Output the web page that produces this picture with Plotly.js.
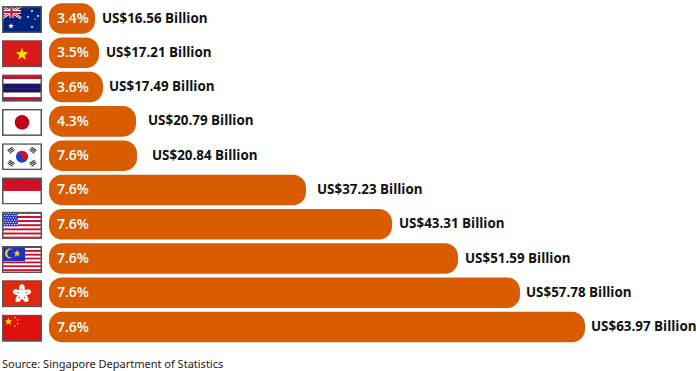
<!DOCTYPE html>
<html><head><meta charset="utf-8">
<script src="https://cdn.plot.ly/plotly-3.0.1.min.js"></script>
<style>html,body{margin:0;padding:0;background:#fff;overflow:hidden}</style></head>
<body><div id="chart" style="width:696px;height:371px"></div>
<script>
const countries = ["Australia","Vietnam","Thailand","Japan","South Korea","Indonesia","United States","Malaysia","Hong Kong","China"];
const barLengths = [46,50,54,87,88,257,343,409,471,536];
const shares = ["3.4%","3.5%","3.6%","4.3%","7.6%","7.6%","7.6%","7.6%","7.6%","7.6%"];
const valueLabels = ["US$16.56 Billion","US$17.21 Billion","US$17.49 Billion","US$20.79 Billion","US$20.84 Billion","US$37.23 Billion","US$43.31 Billion","US$51.59 Billion","US$57.78 Billion","US$63.97 Billion"];
const labelPositions = [53,57,60,99,103,268,350,416,477,542];
const sourceText = "Source: Singapore Department of Statistics";

const ORANGE = "#d95c00";
const frame = '<rect x=".75" y=".75" width="38.5" height="25.5" fill="none" stroke="#555" stroke-width="1.5"/>';
function stripes(colors){const h=27/colors.length;return colors.map((c,i)=>`<rect y="${i*h}" width="40" height="${h+.2}" fill="${c}"/>`).join("");}
const rw13 = ["#c8102e","#fff","#c8102e","#fff","#c8102e","#fff","#c8102e","#fff","#c8102e","#fff","#c8102e","#fff","#c8102e"];
function star(cx,cy,r,fill){let p=[];for(let i=0;i<10;i++){const a=-Math.PI/2+i*Math.PI/5,q=i%2?r*.42:r;p.push((cx+q*Math.cos(a)).toFixed(2)+","+(cy+q*Math.sin(a)).toFixed(2));}return `<polygon points="${p.join(" ")}" fill="${fill}"/>`;}
function dots(x0,y0,nx,ny,dx,dy){let s="";for(let j=0;j<ny;j++)for(let i=0;i<nx;i++)s+=`<circle cx="${x0+i*dx+(j%2?dx/2:0)}" cy="${y0+j*dy}" r=".7" fill="#fff"/>`;return s;}
function petals(){let s="";for(let i=0;i<5;i++){const a=i*72;s+=`<ellipse cx="20" cy="8.6" rx="2.8" ry="4.6" fill="#fff" transform="rotate(${a} 20 13.5)"/><circle cx="20" cy="9" r=".7" fill="#de2910" transform="rotate(${a} 20 13.5)"/>`;}return s;}
function trigrams(){let s="";[[9,7,-35],[31,7,35],[9,20,35],[31,20,-35]].forEach(t=>{s+=`<g transform="rotate(${t[2]} ${t[0]} ${t[1]})" fill="#222"><rect x="${t[0]-3}" y="${t[1]-2.2}" width="6" height="1"/><rect x="${t[0]-3}" y="${t[1]-.5}" width="6" height="1"/><rect x="${t[0]-3}" y="${t[1]+1.2}" width="6" height="1"/></g>`;});return s;}
const flagArt = [
 `<rect width="40" height="27" fill="#00247d"/><path d="M0 0L19 12M19 0L0 12" stroke="#fff" stroke-width="2.6"/><path d="M0 0L19 12M19 0L0 12" stroke="#cf142b" stroke-width="1"/><path d="M9.5 0V12M0 6H19" stroke="#fff" stroke-width="4"/><path d="M9.5 0V12M0 6H19" stroke="#cf142b" stroke-width="2.2"/>${star(9,20,3,"#fff")}${star(30,5,1.6,"#fff")}${star(36,10,1.6,"#fff")}${star(26,11,1.4,"#fff")}${star(30,21,1.6,"#fff")}${star(33,13,1,"#fff")}`,
 `<rect width="40" height="27" fill="#da1a1a"/>${star(20,14,6.6,"#ffdf00")}`,
 stripes(["#c8102e","#fff","#1b1464","#1b1464","#fff","#c8102e"]),
 `<rect width="40" height="27" fill="#fff"/><circle cx="20" cy="13.5" r="7.3" fill="#c00018"/>`,
 `<rect width="40" height="27" fill="#fff"/>${trigrams()}<circle cx="20" cy="13.5" r="6" fill="#1c3fd0"/><path d="M14 13.5A6 6 0 0 1 26 13.5A3 3 0 0 1 20 13.5A3 3 0 0 0 14 13.5Z" fill="#d0102e"/>`,
 `<rect width="40" height="13.5" fill="#ce1126"/><rect y="13.5" width="40" height="13.5" fill="#fff"/>`,
 stripes(rw13)+`<rect width="16" height="14.5" fill="#1c2fc8"/>${dots(1.5,1.5,6,6,2.5,2.3)}`,
 stripes(rw13.concat(["#fff"]))+`<rect width="23" height="15" fill="#1c2fc8"/><circle cx="8" cy="7.5" r="5" fill="#ffd400"/><circle cx="9.6" cy="7.5" r="4.3" fill="#1c2fc8"/>${star(15,7.5,3.8,"#ffd400")}`,
 `<rect width="40" height="27" fill="#de2910"/>${petals()}`,
 `<rect width="40" height="27" fill="#e0100c"/>${star(6.5,7,4,"#ffde00")}${star(13,2.8,1.3,"#ffde00")}${star(15.6,5.4,1.3,"#ffde00")}${star(15.6,9,1.3,"#ffde00")}${star(13,11.6,1.3,"#ffde00")}`
];
const flagUri = a => "data:image/svg+xml;charset=utf-8," + encodeURIComponent(`<svg xmlns="http://www.w3.org/2000/svg" width="120" height="81" viewBox="0 0 40 27">${a}${frame}</svg>`);

const traces = [{type:"bar",orientation:"h",y:countries,x:barLengths,base:countries.map(()=>0),width:0.89,
  marker:{color:ORANGE,line:{width:0},cornerradius:13},hoverinfo:"skip",showlegend:false}];
const family = "Open Sans, sans-serif";
const annotations = [];
countries.forEach((c,i)=>{
 annotations.push({x:6,y:c,xref:"x",yref:"y",xanchor:"left",yanchor:"middle",showarrow:false,text:shares[i],yshift:1,
   font:{family,size:14,color:"#fff",weight:600}});
 annotations.push({x:labelPositions[i]-2,y:c,xref:"x",yref:"y",xanchor:"left",yanchor:"middle",showarrow:false,text:valueLabels[i],yshift:1,
   font:{family,size:13.4,color:"#111",weight:700}});
});
annotations.push({x:0,y:0,xref:"paper",yref:"paper",xanchor:"left",yanchor:"middle",showarrow:false,text:sourceText,yshift:8,
  font:{family:"Noto Sans, sans-serif",size:11,color:"#222"}});

const images = countries.map((c,i)=>({source:flagUri(flagArt[i]),xref:"x",yref:"y",x:-47,y:i+0.03,sizex:40,sizey:27/34.28,xanchor:"left",yanchor:"middle",sizing:"stretch",layer:"above"}));

Plotly.newPlot("chart",traces,{
 width:696,height:371,margin:{l:0,r:0,t:0,b:0,pad:0},
 paper_bgcolor:"#fff",plot_bgcolor:"#fff",barmode:"overlay",
 xaxis:{range:[-49,647],visible:false,fixedrange:true},
 yaxis:{type:"category",categoryorder:"array",categoryarray:countries,range:[10.28,-0.54],visible:false,fixedrange:true},
 annotations,images
},{displayModeBar:false,staticPlot:true});
</script></body></html>
